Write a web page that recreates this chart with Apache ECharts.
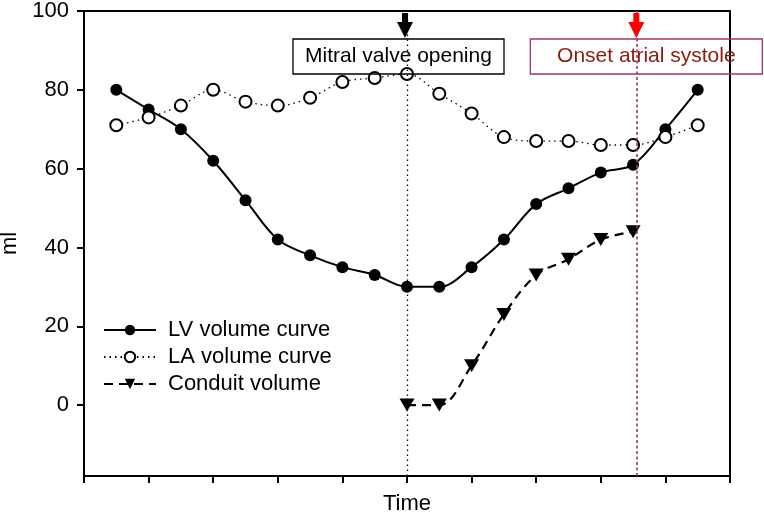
<!DOCTYPE html>
<html><head><meta charset="utf-8">
<script src="https://cdn.jsdelivr.net/npm/echarts@6/dist/echarts.min.js"></script>
<style>html,body{margin:0;padding:0;background:#fff}#c{width:764px;height:513px}</style>
</head><body><div id="c"></div>
<script>
// ---- data ----
const timePoints = [0.5, 1, 1.5, 2, 2.5, 3, 3.5, 4, 4.5, 5, 5.5, 6, 6.5, 7, 7.5, 8, 8.5, 9, 9.5];
const lvVolume   = [80, 75, 70, 62, 52, 42, 38, 35, 33, 30, 30, 35, 42, 51, 55, 59, 61, 70, 80];
const laVolume   = [71, 73, 76, 80, 77, 76, 78, 82, 83, 84, 79, 74, 68, 67, 67, 66, 66, 68, 71];
const conduitTime   = [5, 5.5, 6, 6.5, 7, 7.5, 8, 8.5];
const conduitVolume = [0, 0, 10, 23, 33, 37, 42, 44];
const yTicks = [0, 20, 40, 60, 80, 100];
const seriesNames = ['LV volume curve', 'LA volume curve', 'Conduit volume'];
const mitralTime = 5;
const atrialTime = 8.55;
const mitralLabel = 'Mitral valve opening';
const atrialLabel = 'Onset atrial systole';

const FONT = '"Liberation Sans", Arial, Helvetica, sans-serif';
const pairs = (xs, ys) => xs.map((x, i) => [x, ys[i]]);

const chart = echarts.init(document.getElementById('c'), null, {renderer: 'canvas'});
const option = {
  animation: false,
  backgroundColor: '#fff',
  textStyle: {fontFamily: FONT},
  grid: {left: 84, right: 34, top: 11, bottom: 37, containLabel: false, outerBoundsMode: 'none',
         show: true, borderColor: '#000', borderWidth: 2, backgroundColor: 'transparent'},
  legend: {
    orient: 'vertical', left: 98, top: 314, itemWidth: 52, itemHeight: 13, itemGap: 5,
    data: seriesNames,
    textStyle: {fontFamily: FONT, fontSize: 22, color: '#000', padding: [0, 0, 0, 7]},
    inactiveColor: '#000'
  },
  xAxis: {
    type: 'value', min: 0, max: 10, interval: 1,
    name: 'Time', nameLocation: 'middle', nameGap: 17,
    nameTextStyle: {fontFamily: FONT, fontSize: 22, color: '#000'},
    axisLine: {onZero: false, lineStyle: {color: '#000', width: 2}},
    axisTick: {show: true, inside: false, length: 7, lineStyle: {color: '#000', width: 2}},
    axisLabel: {show: false},
    splitLine: {show: false}
  },
  yAxis: {
    type: 'value', min: -18, max: 100,
    name: 'ml', nameLocation: 'middle', nameGap: 57, nameRotate: 90,
    nameTextStyle: {fontFamily: FONT, fontSize: 22, color: '#000'},
    axisLine: {show: true, onZero: false, lineStyle: {color: '#000', width: 2}},
    axisTick: {show: true, inside: false, length: 7, customValues: yTicks, lineStyle: {color: '#000', width: 2}},
    axisLabel: {show: true, customValues: yTicks, margin: 15, fontFamily: FONT, fontSize: 22, color: '#000'},
    splitLine: {show: false}
  },
  series: [
    {
      name: seriesNames[0], type: 'line', z: 3,
      data: pairs(timePoints, lvVolume),
      smooth: 0.35,
      symbol: 'circle', symbolSize: 12,
      itemStyle: {color: '#000'},
      lineStyle: {color: '#000', width: 2, type: 'solid'}
    },
    {
      name: seriesNames[1], type: 'line', z: 4,
      data: pairs(timePoints, laVolume),
      smooth: 0.35,
      symbol: 'circle', symbolSize: 12,
      itemStyle: {color: '#fff', borderColor: '#000', borderWidth: 2},
      lineStyle: {color: '#000', width: 1.3, type: [1.5, 4]}
    },
    {
      name: seriesNames[2], type: 'line', z: 3,
      data: pairs(conduitTime, conduitVolume),
      smooth: 0.35,
      symbol: 'triangle', symbolRotate: 180, symbolSize: [15, 13],
      itemStyle: {color: '#000'},
      lineStyle: {color: '#000', width: 2.2, type: [9, 6]},
      markLine: {
        silent: true, symbol: ['none', 'none'], label: {show: false},
        data: [
          {xAxis: mitralTime, lineStyle: {color: '#000', width: 1.3, type: [1.5, 3.5]}},
          {xAxis: atrialTime, lineStyle: {color: '#a3336c', width: 1.6, type: [3, 2.5]}}
        ]
      }
    }
  ]
};
chart.setOption(option);

function annotations() {
  const top = chart.convertToPixel({gridIndex: 0}, [0, 100])[1];
  const mx = chart.convertToPixel({gridIndex: 0}, [mitralTime, 0])[0];
  const ax = chart.convertToPixel({gridIndex: 0}, [atrialTime, 0])[0];
  function arrow(cx, color) {
    const y0 = top + 2, yh = top + 11, y1 = top + 27;
    return {
      type: 'polygon', z: 100,
      shape: {points: [[cx - 3, y0], [cx + 3, y0], [cx + 3, yh], [cx + 8, yh], [cx, y1], [cx - 8, yh], [cx - 3, yh]]},
      style: {fill: color}
    };
  }
  chart.setOption({
    graphic: [
      arrow(mx - 2, '#000'),
      arrow(ax, '#ff0000'),
      {type: 'rect', z: 100, shape: {x: mx - 114, y: top + 28, width: 211, height: 35},
       style: {fill: 'none', stroke: '#000', lineWidth: 1.3}},
      {type: 'text', z: 101, x: mx - 114 + 105.5, y: top + 45.5,
       style: {text: mitralLabel, font: '21px ' + FONT, fill: '#000', align: 'center', verticalAlign: 'middle'}},
      {type: 'rect', z: 100, shape: {x: ax - 106, y: top + 28, width: 232, height: 35},
       style: {fill: 'none', stroke: '#a3336c', lineWidth: 1.3}},
      {type: 'text', z: 101, x: ax - 106 + 116, y: top + 45.5,
       style: {text: atrialLabel, font: '21px ' + FONT, fill: '#8b1a10', align: 'center', verticalAlign: 'middle'}}
    ]
  });
}
annotations();
</script>
</body></html>
